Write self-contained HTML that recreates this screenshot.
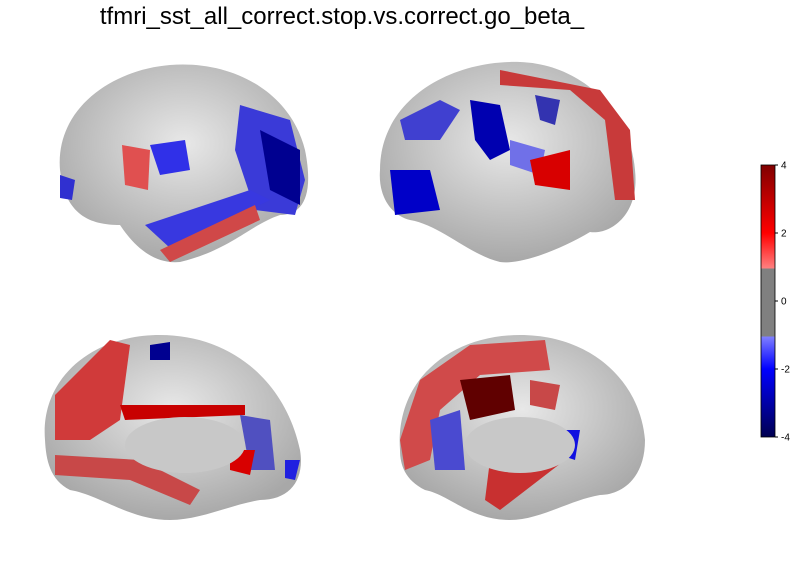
<!DOCTYPE html>
<html><head><meta charset="utf-8"><style>
body{margin:0;background:#fff;width:798px;height:580px;overflow:hidden;font-family:"Liberation Sans",sans-serif}
svg{position:absolute;left:0;top:0}
</style></head><body>
<svg width="798" height="580">
<defs>
<linearGradient id="cb" x1="0" y1="0" x2="0" y2="1">
<stop offset="0" stop-color="#800000"/><stop offset="0.25" stop-color="#ff0000"/><stop offset="0.38" stop-color="#ff8080"/>
<stop offset="0.38" stop-color="#808080"/><stop offset="0.63" stop-color="#808080"/>
<stop offset="0.63" stop-color="#8080ff"/><stop offset="0.75" stop-color="#0000ff"/><stop offset="1" stop-color="#000050"/>
</linearGradient>
<radialGradient id="gb" cx="0.5" cy="0.4" r="0.6"><stop offset="0" stop-color="#e8e8e8"/><stop offset="1" stop-color="#a8a8a8"/></radialGradient>
</defs>
<text x="342" y="24" text-anchor="middle" font-size="24" fill="#000">tfmri_sst_all_correct.stop.vs.correct.go_beta_</text>

<g>
<path d="M60,170 C55,110 110,70 170,65 C230,60 290,90 305,150 C315,200 300,215 280,215 C250,225 230,250 180,262 C150,265 130,240 120,225 C90,225 65,215 60,170 Z" fill="url(#gb)"/>
<path d="M240,105 L290,120 L305,180 L295,215 L255,210 L235,150 Z" fill="#3a3ad8"/>
<path d="M145,225 L250,190 L270,200 L170,248 Z" fill="#3838e0"/>
<path d="M150,145 L185,140 L190,170 L160,175 Z" fill="#3030e8"/>
<path d="M122,145 L150,150 L148,190 L125,185 Z" fill="#e05050"/>
<path d="M160,250 L255,205 L260,220 L170,262 Z" fill="#d04848"/>
<path d="M60,175 L75,180 L72,200 L60,198 Z" fill="#3030d0"/>
<path d="M260,130 L300,150 L300,205 L270,190 Z" fill="#000090"/>
</g>
<g>
<path d="M380,170 C380,100 450,60 520,62 C580,64 630,110 635,170 C640,215 610,235 590,232 C560,250 520,265 500,262 C470,255 440,225 410,220 C390,215 378,195 380,170 Z" fill="url(#gb)"/>
<path d="M500,70 L600,90 L630,130 L635,200 L615,200 L605,120 L570,90 L500,85 Z" fill="#c83a3a"/>
<path d="M400,120 L440,100 L460,110 L440,140 L405,140 Z" fill="#4040d0"/>
<path d="M470,100 L500,105 L510,150 L490,160 L475,140 Z" fill="#0000b0"/>
<path d="M510,140 L545,150 L540,175 L510,165 Z" fill="#7070e8"/>
<path d="M530,160 L570,150 L570,190 L535,185 Z" fill="#d80000"/>
<path d="M390,170 L430,170 L440,210 L395,215 Z" fill="#0000c8"/>
<path d="M535,95 L560,100 L555,125 L540,120 Z" fill="#3333b0"/>
</g>
<g>
<path d="M45,440 C40,380 90,335 160,335 C230,335 285,380 300,450 C305,480 290,500 260,500 C230,505 200,520 170,520 C130,520 100,495 70,490 C50,480 46,460 45,440 Z" fill="url(#gb)"/>
<path d="M55,395 L110,340 L130,345 L120,420 L90,440 L55,440 Z" fill="#d03a3a"/>
<path d="M55,455 L140,460 L200,490 L190,505 L130,480 L55,475 Z" fill="#c84848"/>
<path d="M120,405 L245,405 L245,415 L125,420 Z" fill="#c80000"/>
<path d="M240,415 L270,420 L275,470 L250,470 Z" fill="#5050c0"/>
<path d="M150,345 L170,342 L170,360 L150,360 Z" fill="#000090"/>
<path d="M230,450 L255,450 L250,475 L230,470 Z" fill="#d80000"/>
<path d="M285,460 L300,460 L295,480 L285,478 Z" fill="#2020e0"/>
<ellipse cx="185" cy="445" rx="60" ry="28" fill="#c8c8c8"/>
</g>
<g>
<path d="M400,450 C395,380 450,335 520,335 C590,335 640,380 645,440 C645,480 620,495 600,495 C570,500 540,520 510,520 C470,520 450,495 425,490 C405,480 400,465 400,450 Z" fill="url(#gb)"/>
<path d="M400,440 L420,380 L470,345 L545,340 L550,370 L480,375 L440,410 L430,460 L405,470 Z" fill="#d04a4a"/>
<path d="M460,380 L510,375 L515,410 L470,420 Z" fill="#600000"/>
<path d="M430,420 L460,410 L465,470 L435,470 Z" fill="#4a4ad0"/>
<path d="M490,460 L560,440 L565,460 L500,510 L485,500 Z" fill="#c83030"/>
<path d="M560,430 L580,430 L575,460 L560,455 Z" fill="#1010e0"/>
<path d="M530,380 L560,385 L555,410 L530,405 Z" fill="#c84848"/>
<ellipse cx="520" cy="445" rx="55" ry="28" fill="#c8c8c8"/>
</g>

<g>
<rect x="761" y="165" width="14" height="272" fill="url(#cb)" stroke="#000" stroke-width="0.8"/>
<g id="ticks"></g>
</g>
</svg>
<script>
const tickValues=[4,2,0,-2,-4];
const tickLabels=['4','2','0','-2','-4'];
const vmin=-4,vmax=4,y0=437,y1=165;
const g=document.getElementById('ticks');
function yScale(v){return y0+(v-vmin)/(vmax-vmin)*(y1-y0);}
tickValues.forEach((v,i)=>{
 const y=yScale(v);
 const l=document.createElementNS('http://www.w3.org/2000/svg','line');
 l.setAttribute('x1',775);l.setAttribute('x2',778);l.setAttribute('y1',y);l.setAttribute('y2',y);l.setAttribute('stroke','#000');
 
 
 g.appendChild(l);
 const t=document.createElementNS('http://www.w3.org/2000/svg','text');
 t.setAttribute('x',781);t.setAttribute('y',y+3.5);t.setAttribute('font-size','10');t.textContent=tickLabels[i];
 
 
 g.appendChild(t);
});
</script>
</body></html>
